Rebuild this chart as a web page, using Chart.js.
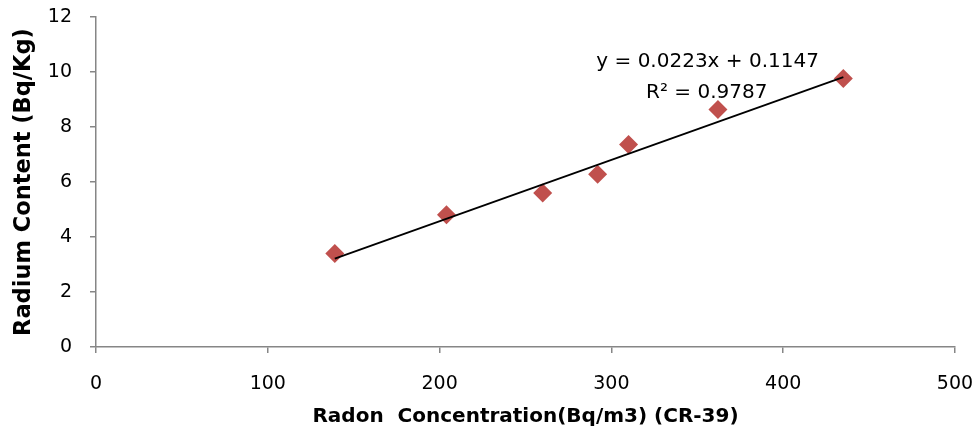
<!DOCTYPE html>
<html>
<head>
<meta charset="utf-8">
<script src="https://cdn.jsdelivr.net/npm/chart.js@4/dist/chart.umd.min.js"></script>
<style>
  html, body { margin: 0; padding: 0; background: #fff; }
  #wrap { width: 978px; height: 436px; }
</style>
</head>
<body>
<div id="wrap"><canvas id="chartRadon"></canvas></div>
<script>
// Radon concentration (CR-39) vs radium content
const radonConc = [139, 204, 260, 292, 310, 362, 435];
const radiumContent = [3.40, 4.81, 5.60, 6.28, 7.36, 8.64, 9.76];
const xTicks = [0, 100, 200, 300, 400, 500];
const yTicks = [0, 2, 4, 6, 8, 10, 12];
const slope = 0.0223;
const intercept = 0.1147;
const eqLabel = 'y = 0.0223x + 0.1147';
const r2Label = 'R² = 0.9787';

const axisGrey = '#868686';
const fontFam = "'DejaVu Sans', 'Liberation Sans', sans-serif";

// trendline from min to max x
const xMin = Math.min(...radonConc), xMax = Math.max(...radonConc);
const trend = [
    { x: xMin, y: slope * xMin + intercept },
    { x: xMax, y: slope * xMax + intercept }
];

const eqPlugin = {
    id: 'eqText',
    afterDatasetsDraw(chart) {
        const c = chart.ctx;
        const xs = chart.scales.x, ys = chart.scales.y;
        c.save();
        c.fillStyle = '#000';
        c.font = '20px ' + fontFam;
        c.textAlign = 'center';
        c.textBaseline = 'middle';
        c.fillText(eqLabel, xs.getPixelForValue(356), ys.getPixelForValue(10.36));
        c.fillText(r2Label, xs.getPixelForValue(355.5), ys.getPixelForValue(9.23));
        c.restore();
    }
};

document.addEventListener("DOMContentLoaded", function() {
    const ctx = document.getElementById('chartRadon').getContext('2d');
    new Chart(ctx, {
        type: 'scatter',
        data: {
            datasets: [{
                label: 'Linear',
                type: 'line',
                data: trend,
                borderColor: '#000',
                borderWidth: 1.75,
                pointRadius: 0,
                fill: false
            }, {
                label: 'Radium',
                data: radonConc.map((x, i) => ({ x: x, y: radiumContent[i] })),
                pointStyle: 'rectRot',
                pointRadius: 9.5,
                pointHoverRadius: 9.5,
                backgroundColor: '#C0504D',
                borderColor: '#C0504D',
                borderWidth: 0
            }]
        },
        options: {
            responsive: true,
            maintainAspectRatio: false,
            animation: false,
            layout: { padding: { top: 17, right: 23, left: 11, bottom: 7 } },
            plugins: {
                legend: { display: false },
                tooltip: { enabled: false }
            },
            scales: {
                x: {
                    type: 'linear',
                    min: 0, max: 500,
                    afterBuildTicks: s => { s.ticks = xTicks.map(v => ({ value: v })); },
                    afterFit: s => { s.height = 82; s.paddingLeft = 0; s.paddingRight = 0; },
                    border: { color: axisGrey, width: 1.5 },
                    grid: { drawOnChartArea: false, color: axisGrey, tickLength: 6, lineWidth: 1.5 },
                    ticks: { color: '#000', font: { family: fontFam, size: 19 }, padding: 20 },
                    title: {
                        display: true,
                        text: 'Radon  Concentration(Bq/m3) (CR-39)',
                        color: '#000',
                        font: { family: fontFam, size: 20, weight: 'bold' },
                        padding: { top: 12, bottom: 0 }
                    }
                },
                y: {
                    type: 'linear',
                    min: 0, max: 12,
                    afterBuildTicks: s => { s.ticks = yTicks.map(v => ({ value: v })); },
                    afterFit: s => { s.width = 85; s.paddingTop = 0; s.paddingBottom = 0; },
                    border: { color: axisGrey, width: 1.5 },
                    grid: { drawOnChartArea: false, color: axisGrey, tickLength: 6, lineWidth: 1.5 },
                    ticks: { color: '#000', font: { family: fontFam, size: 19 }, padding: 18 },
                    title: {
                        display: true,
                        text: 'Radium Content (Bq/Kg)',
                        color: '#000',
                        font: { family: fontFam, size: 22.5, weight: 'bold' },
                        padding: { top: 0, bottom: 10 }
                    }
                }
            }
        },
        plugins: [eqPlugin]
    });
});
</script>
</body>
</html>
